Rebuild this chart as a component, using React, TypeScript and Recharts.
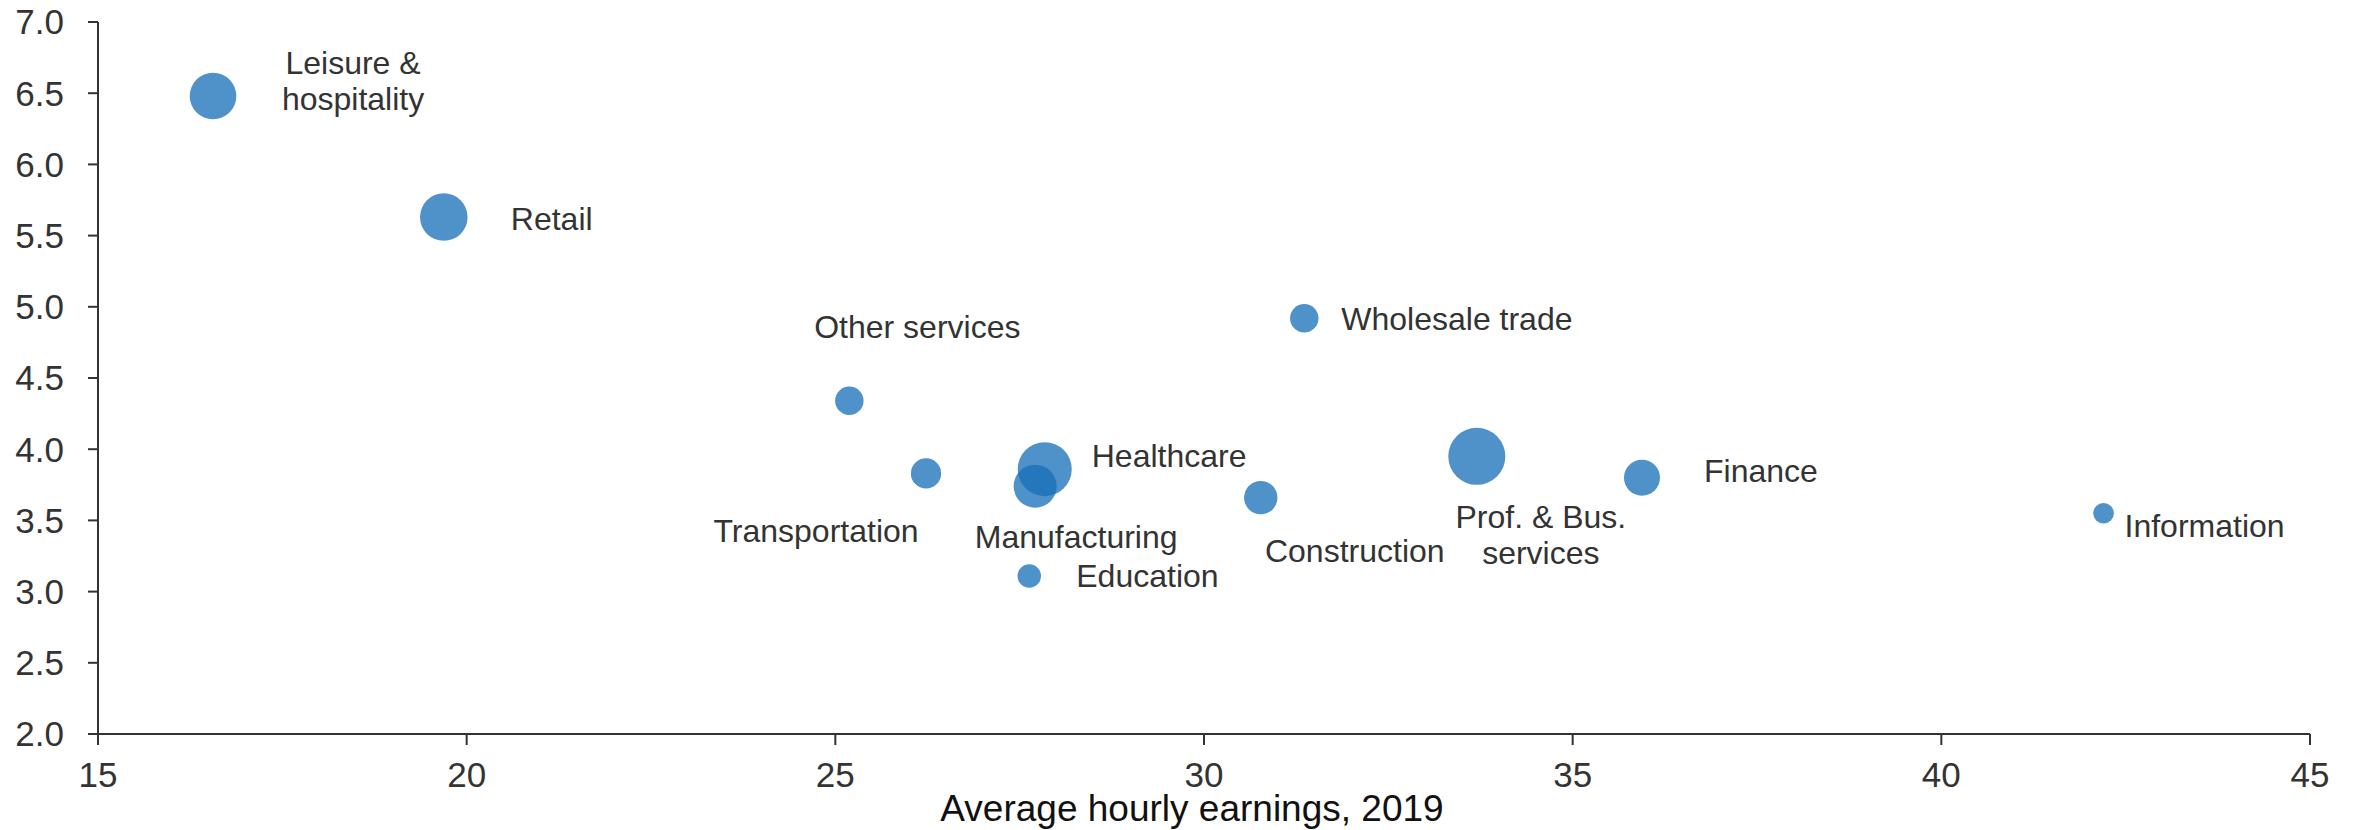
import {
  ScatterChart,
  Scatter,
  XAxis,
  YAxis,
  ZAxis,
} from "recharts";

// industries, 2019
const industries = [
  "Leisure & hospitality",
  "Retail",
  "Other services",
  "Transportation",
  "Healthcare",
  "Manufacturing",
  "Education",
  "Construction",
  "Wholesale trade",
  "Prof. & Bus. services",
  "Finance",
  "Information",
];

const hourlyEarnings = [16.56, 19.69, 25.19, 26.23, 27.84, 27.71, 27.63, 30.77, 31.36, 33.7, 35.94, 42.2];

const yValues = [6.48, 5.63, 4.34, 3.83, 3.86, 3.74, 3.11, 3.66, 4.92, 3.95, 3.8, 3.55];

// bubble size (employment, millions)
const employment = [14.2, 14.8, 5.3, 6.0, 19.1, 12.1, 3.6, 7.3, 5.3, 21.3, 8.5, 2.8];

const xTicks = [15, 20, 25, 30, 35, 40, 45];
const yTicks = [2.0, 2.5, 3.0, 3.5, 4.0, 4.5, 5.0, 5.5, 6.0, 6.5, 7.0];

/*
  label placement, relative to bubble centre
*/
const labelPlacement: Record<string, { lines: string[]; dx: number; dy: number; anchor: string }> = {
  "Leisure & hospitality": { lines: ["Leisure &", "hospitality"], dx: 140, dy: -33, anchor: "middle" },
  Retail: { lines: ["Retail"], dx: 67, dy: 2, anchor: "start" },
  "Other services": { lines: ["Other services"], dx: 68, dy: -74, anchor: "middle" },
  Transportation: { lines: ["Transportation"], dx: -110, dy: 58, anchor: "middle" },
  Healthcare: { lines: ["Healthcare"], dx: 47, dy: -13, anchor: "start" },
  Manufacturing: { lines: ["Manufacturing"], dx: 41, dy: 51, anchor: "middle" },
  Education: { lines: ["Education"], dx: 47, dy: 0, anchor: "start" },
  Construction: { lines: ["Construction"], dx: 94, dy: 53, anchor: "middle" },
  "Wholesale trade": { lines: ["Wholesale trade"], dx: 37, dy: 1, anchor: "start" },
  "Prof. & Bus. services": { lines: ["Prof. & Bus.", "services"], dx: 64, dy: 61, anchor: "middle" },
  Finance: { lines: ["Finance"], dx: 62, dy: -7, anchor: "start" },
  Information: { lines: ["Information"], dx: 21, dy: 13, anchor: "start" },
};

const data = industries.map((name, i) => ({
  name,
  x: hourlyEarnings[i],
  y: yValues[i],
  z: employment[i],
}));

const TEXT = "#333333";

const Bubble = (props: any) => {
  const { cx, cy, payload } = props;
  const r = props.size ? Math.sqrt(props.size / Math.PI) : props.width / 2;
  const p = labelPlacement[payload.name];

  return (
    <g>
      <circle cx={cx} cy={cy} r={r} fill="#186eb8" fillOpacity={0.76} />
      {p.lines.map((line, k) => (
        <text
          key={k}
          x={cx + p.dx}
          y={cy + p.dy + k * 36}
          textAnchor={p.anchor as any}
          dominantBaseline="central"
          fontSize={32}
          fill={TEXT}
        >
          {line}
        </text>
      ))}
    </g>
  );
};

const App = () => {
  return (
    <div style={{ position: "absolute", left: 0, top: 0, background: "#fff" }}>
      <ScatterChart
        width={2364}
        height={830}
        margin={{ top: 22, right: 54, bottom: 0, left: 0 }}
        style={{ fontFamily: "'Liberation Sans', Arial, sans-serif" }}
      >
        <XAxis
          type="number"
          dataKey="x"
          domain={[15, 45]}
          ticks={xTicks}
          height={96}
          tickSize={11}
          tickMargin={17}
          stroke={TEXT}
          strokeWidth={2}
          tick={{ fill: TEXT, fontSize: 35 }}
          label={{
            value: "Average hourly earnings, 2019",
            position: "insideBottom",
            offset: 9,
            fill: "#111",
            fontSize: 37,
            dx: -12,
          }}
        />
        <YAxis
          type="number"
          dataKey="y"
          domain={[2, 7]}
          ticks={yTicks}
          width={98}
          tickSize={10}
          tickMargin={24}
          stroke={TEXT}
          strokeWidth={2}
          tick={{ fill: TEXT, fontSize: 35 }}
          tickFormatter={(v: number) => v.toFixed(1)}
        />
        <ZAxis type="number" dataKey="z" domain={[0, 25]} range={[0, 3000]} />
        <Scatter data={data} shape={<Bubble />} isAnimationActive={false} />
      </ScatterChart>
    </div>
  );
};

export default App;
